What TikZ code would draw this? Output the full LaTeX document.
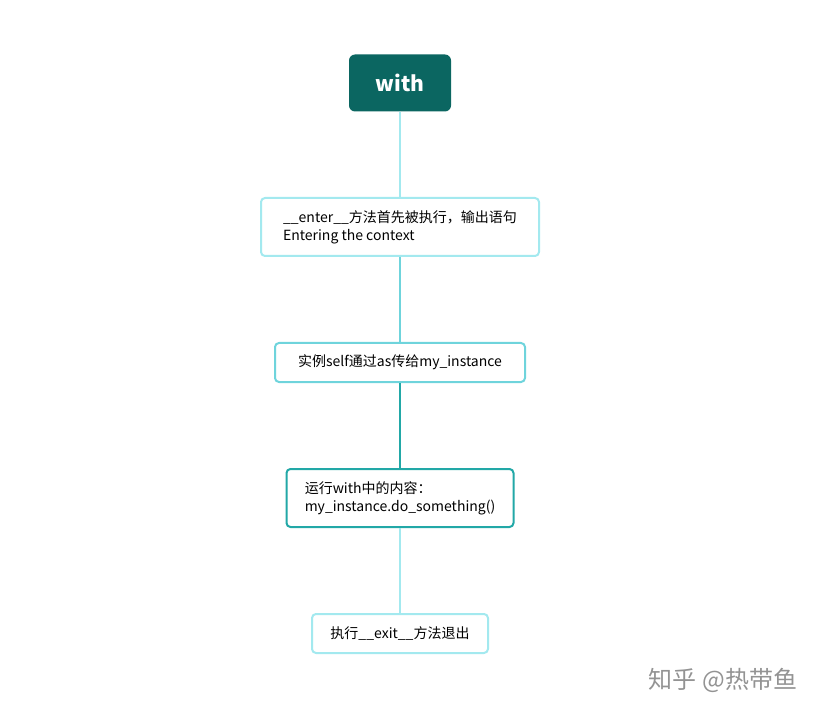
\documentclass[tikz,border=0pt]{standalone}
\usepackage{fontspec}
\setmainfont{Noto Sans CJK SC}
\usetikzlibrary{positioning}
\definecolor{darkteal}{HTML}{0B6661}
\definecolor{lightcyan}{HTML}{A3E9EF}
\definecolor{midcyan}{HTML}{6FD4DC}
\definecolor{deepcyan}{HTML}{22A8A7}
\tikzset{flowbox/.style={rectangle, rounded corners=4pt, draw, line width=2pt, fill=white, align=left, font=\fontsize{14}{18}\selectfont, inner xsep=14pt}}

\begin{document}
\begin{tikzpicture}[x=1pt,y=-1pt]
\useasboundingbox (0,0) rectangle (820,714);

\node[rectangle, rounded corners=6pt, fill=darkteal, text=white, font=\fontsize{21}{24}\selectfont\bfseries, minimum width=102pt, minimum height=57pt] (with) at (400,83) {with};

\node[flowbox, draw=lightcyan, minimum width=278pt, minimum height=58pt] (enter) at (400,227) {\_\_enter\_\_方法首先被执行，输出语句\\Entering the context};
\node[flowbox, draw=midcyan, minimum width=250pt, minimum height=39pt] (self) at (400,362.5) {实例self通过as传给my\_instance};
\node[flowbox, draw=deepcyan, minimum width=227pt, minimum height=58pt] (body) at (400,498) {运行with中的内容：\\my\_instance.do\_something()};
\node[flowbox, draw=lightcyan, minimum width=176pt, minimum height=39pt] (exit) at (400,633.5) {执行\_\_exit\_\_方法退出};

\node[text=gray!85, font=\fontsize{24}{28}\selectfont] (mark) at (723,680) {知乎 @热带鱼};

% connectors
\draw[lightcyan, line width=2pt] (with) -- (enter);
\draw[midcyan, line width=2pt] (enter) -- (self);
\draw[deepcyan, line width=2pt] (self) -- (body);
\draw[lightcyan, line width=2pt] (body) -- (exit);

\end{tikzpicture}
\end{document}
